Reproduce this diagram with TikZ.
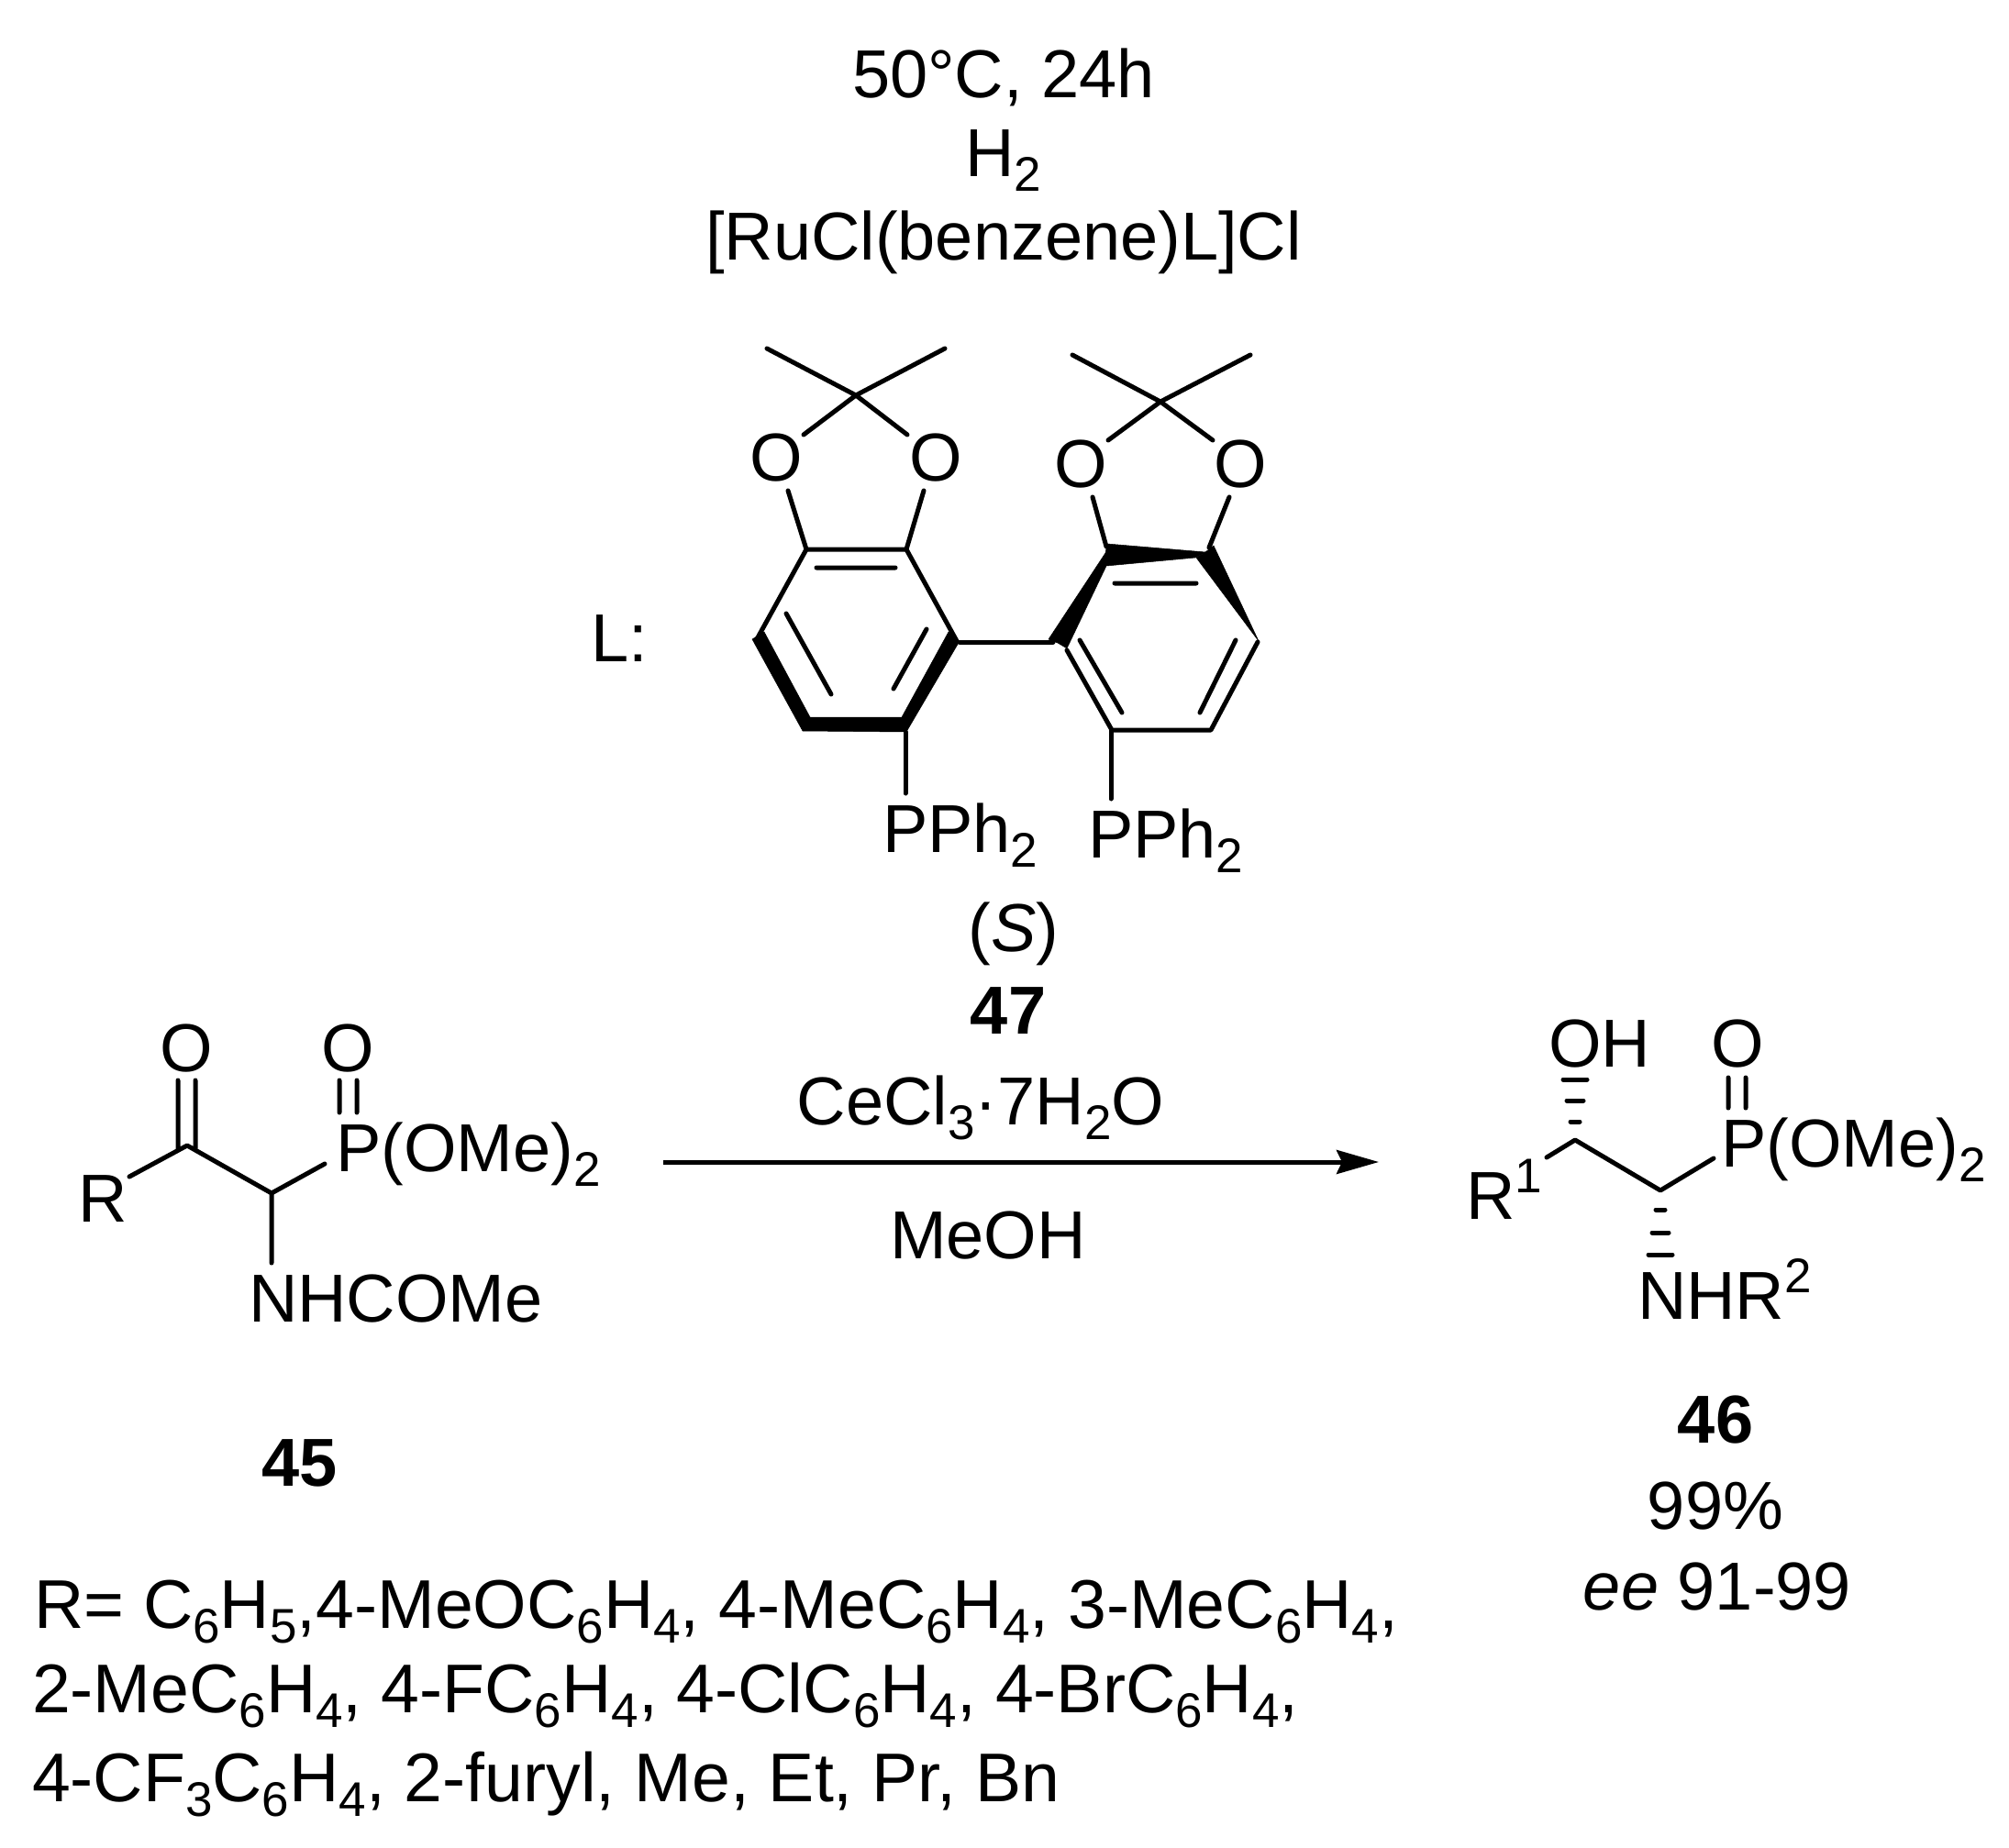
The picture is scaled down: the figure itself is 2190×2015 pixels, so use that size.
\documentclass[tikz,border=0pt]{standalone}
\usepackage{fontspec}
\setmainfont{Liberation Sans}
\usetikzlibrary{arrows.meta}
\newcommand\dnx[1]{\raisebox{-16pt}{\fontsize{53}{53}\selectfont #1}}
\newcommand\upx[1]{\raisebox{29pt}{\fontsize{53}{53}\selectfont #1}}
\tikzset{
  bondline/.style={line width=5pt,line cap=round,line join=round},
  hashline/.style={line width=5pt,line cap=round},
  boldpoly/.style={fill=black,draw=black,line width=.5pt,line join=miter},
  txt/.style={inner sep=0pt,outer sep=0pt,font=\fontsize{74}{74}\selectfont,anchor=base},
  txtw/.style={txt,anchor=base west},
  listtxt/.style={txtw,font=\fontsize{75.2}{75.2}\selectfont},
  arrowline/.style={line width=5pt,-{Stealth[length=46pt,width=26pt,inset=6pt]}}
}
\begin{document}
\begin{tikzpicture}[x=1pt,y=-1pt]
\useasboundingbox[fill=white] (0,0) rectangle (2190,2015);
% --- top conditions
\node[txt] (t1) at (1094,107) {50°C, 24h};
\node[txt] (t2) at (1094,193) {H\dnx{2}};
\node[txt] (t3) at (1094,283) {[RuCl(benzene)L]Cl};
\node[txtw] (lab) at (644,721) {L:};
% --- ligand coordinates
\foreach \n/\x/\y in {
 lc/933/431, lm1/836/380, lm2/1030/380, lo1e/876/474, lo2e/989/474,
 lo1s/859/535, lo2s/1007/535, ra/879/599, rb/988/599, rc/1043/699, rd/987/797, re/879/797, rf/825/697,
 i1/890/619, i2/976/619, i3/857/669, i4/906/757, i5/1010/686, i6/974/751,
 bi1/1046/700, bi2/1148/700,
 sa/1163/709, sb/1212/796, sc/1320/796, sd/1371/700,
 j1/1215/636, j2/1304/636, j3/1177/698, j4/1223/777, j5/1347/698, j6/1308/777,
 rcc/1265/438, rm1/1169/387, rm2/1363/387, ro1e/1208/480, ro2e/1322/480,
 ro1s/1191/542, ro1t/1206/596, ro2s/1340/542, ro2t/1318/597,
 p1a/987/798, p1b/987/865, p2a/1211/796, p2b/1211/871}
 {\coordinate (\n) at (\x,\y);}
% acetonides
\draw[bondline] (lm1)--(lc)--(lm2) (lo1e)--(lc)--(lo2e) (lo1s)--(ra) (lo2s)--(rb);
\draw[bondline] (rm1)--(rcc)--(rm2) (ro1e)--(rcc)--(ro2e) (ro1s)--(ro1t) (ro2s)--(ro2t);
\node[txt] (o1) at (846,524) {O};
\node[txt] (o2) at (1020.5,524) {O};
\node[txt] (o3) at (1178.5,531) {O};
\node[txt] (o4) at (1352,531) {O};
% left ring
\draw[bondline] (rf)--(ra)--(rb)--(rc);
\draw[boldpoly] (820,697)--(875,797)--(988,798)--(1046,699)--(1034,689)--(983,782)--(883,782)--(833,689)--cycle;
\draw[bondline] (i1)--(i2) (i3)--(i4) (i5)--(i6);
\draw[bondline] (bi1)--(bi2);
% right ring
\draw[boldpoly] (1143,697)--(1205,603)--(1207,593)--(1314,602)--(1303,608)--(1206,617)--(1163,707)--(1153,701)--cycle;
\draw[boldpoly] (1323,595)--(1372,699)--(1304,608)--(1314,602)--cycle;
\draw[bondline] (sa)--(sb)--(sc)--(sd);
\draw[bondline] (j1)--(j2) (j3)--(j4) (j5)--(j6);
\draw[bondline] (p1a)--(p1b) (p2a)--(p2b);
\node[txtw] (pp1) at (962,929) {PPh\dnx{2}};
\node[txtw] (pp2) at (1186,935) {PPh\dnx{2}};
\node[txt] (s) at (1105,1037) {(\textit{S})};
\node[txt] (n47) at (1099,1127) {\bfseries 47};
% --- substrate 45
\foreach \n/\x/\y in {
 a1/141/1283, a2/204/1249, a3/296/1301, a4/354/1269, a5/296/1377,
 ao1/194/1178, ao2/194/1252, ao3/213/1178, ao4/213/1252,
 ap1/370/1178, ap2/370/1213, ap3/389/1178, ap4/389/1213}
 {\coordinate (\n) at (\x,\y);}
\draw[bondline] (a1)--(a2)--(a3)--(a4) (a3)--(a5) (ao1)--(ao2) (ao3)--(ao4) (ap1)--(ap2) (ap3)--(ap4);
\node[txtw] (r45) at (85,1332) {R};
\node[txt] (o45a) at (203,1168) {O};
\node[txt] (o45b) at (379,1168) {O};
\node[txtw] (p45) at (366,1277) {P(OMe)\dnx{2}};
\node[txtw] (n45) at (271,1441) {NHCOMe};
\node[txt] (l45) at (327,1620) {\bfseries 45};
% --- arrow and reagents
\node[txt] (ce) at (1069,1226) {CeCl\dnx{3}·7H\dnx{2}O};
\node[txt] (me) at (1077,1372) {MeOH};
\coordinate (ar1) at (723,1267);
\coordinate (ar2) at (1503,1267);
\draw[arrowline] (ar1)--(ar2);
% --- product 46
\foreach \n/\x/\y in {
 b1/1686/1262, b2/1717/1243, b3/1810/1298, b4/1868/1263,
 bo1/1884/1175, bo2/1884/1208, bo3/1903/1175, bo4/1903/1208,
 h1a/1704/1177, h1b/1730/1177, h2a/1708/1200, h2b/1726/1200, h3a/1712/1223, h3b/1722/1223,
 h4a/1805/1319, h4b/1815/1319, h5a/1801/1344, h5b/1819/1344, h6a/1797/1368, h6b/1823/1368}
 {\coordinate (\n) at (\x,\y);}
\draw[bondline] (b1)--(b2)--(b3)--(b4) (bo1)--(bo2) (bo3)--(bo4);
\draw[hashline] (h1a)--(h1b) (h2a)--(h2b) (h3a)--(h3b) (h4a)--(h4b) (h5a)--(h5b) (h6a)--(h6b);
\node[txtw] (oh) at (1688,1163) {OH};
\node[txt] (o46) at (1894,1163) {O};
\node[txtw] (p46) at (1876,1272) {P(OMe)\dnx{2}};
\node[txtw] (r46) at (1598,1329) {R\upx{1}};
\node[txtw] (n46) at (1785,1438) {NHR\upx{2}};
\node[txt] (l46) at (1870,1573) {\bfseries 46};
\node[txt] (y46) at (1870,1667) {99\%};
\node[txt] (e46) at (1872,1755) {\textit{ee} 91-99};
% --- R list
\node[listtxt] (l1) at (37,1775) {R= C\dnx{6}H\dnx{5},4-MeOC\dnx{6}H\dnx{4}, 4-MeC\dnx{6}H\dnx{4}, 3-MeC\dnx{6}H\dnx{4},};
\node[listtxt] (l2) at (35,1867) {2-MeC\dnx{6}H\dnx{4}, 4-FC\dnx{6}H\dnx{4}, 4-ClC\dnx{6}H\dnx{4}, 4-BrC\dnx{6}H\dnx{4},};
\node[listtxt] (l3) at (35,1964) {4-CF\dnx{3}C\dnx{6}H\dnx{4}, 2-furyl, Me, Et, Pr, Bn};
\end{tikzpicture}
\end{document}
